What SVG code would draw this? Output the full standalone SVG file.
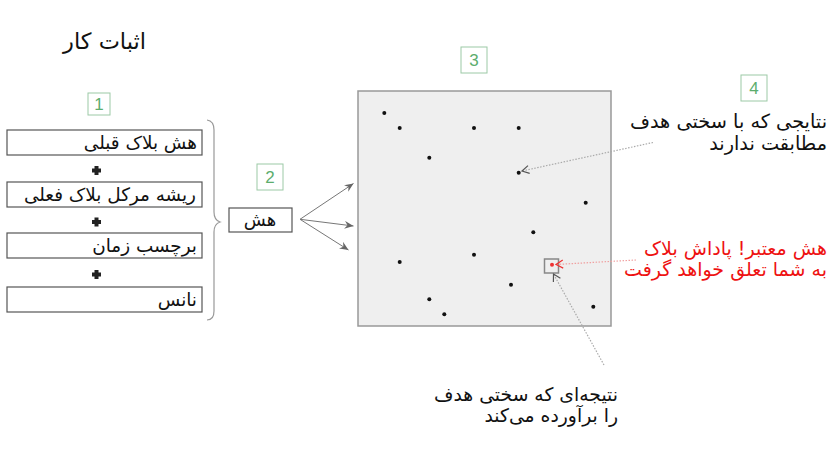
<svg xmlns="http://www.w3.org/2000/svg" width="835" height="470" viewBox="0 0 835 470">
<style>
.fa{font-family:"DejaVu Sans",sans-serif;fill:#111}
.red{fill:#ee1111}
.box{fill:#fff;stroke:#555;stroke-width:1.2}
.num{fill:#fff;stroke:#9cc9a6;stroke-width:1}
.numt{font-family:"Liberation Sans",Arial,sans-serif;font-size:17px;fill:#5cad6d;text-anchor:middle}
.plus{fill:#222}
.dot{fill:#111}
</style>
<defs>
<marker id="ah" markerWidth="10" markerHeight="8" refX="9" refY="4" orient="auto" markerUnits="userSpaceOnUse">
<path d="M0,0 L9,4 L0,8 L3,4 Z" fill="#666"/>
</marker>
<marker id="vg" markerWidth="10" markerHeight="10" refX="8" refY="5" orient="auto" markerUnits="userSpaceOnUse">
<path d="M1,1 L8,5 L1,9" fill="none" stroke="#555" stroke-width="1.2"/>
</marker>
<marker id="vr" markerWidth="10" markerHeight="10" refX="8" refY="5" orient="auto" markerUnits="userSpaceOnUse">
<path d="M1,1 L8,5 L1,9" fill="none" stroke="#e33" stroke-width="1.2"/>
</marker>
</defs>
<rect width="835" height="470" fill="#fff"/>
<text class="fa" x="146" y="49" font-size="22.5" text-anchor="end">اثبات کار</text>

<g id="label1"><rect class="num" x="88" y="93" width="22" height="22"/><text class="numt" x="99" y="110">1</text></g>
<g id="label2"><rect class="num" x="257" y="164" width="26" height="26"/><text class="numt" x="270" y="183">2</text></g>
<g id="label3"><rect class="num" x="461" y="47" width="26" height="26"/><text class="numt" x="474" y="66">3</text></g>
<g id="label4"><rect class="num" x="741" y="75" width="26" height="26"/><text class="numt" x="754" y="94">4</text></g>

<g id="prevhash"><rect class="box" x="7" y="130" width="195" height="25"/><text class="fa" x="197" y="149" font-size="18.4" text-anchor="end">هش بلاک قبلی</text></g>
<g id="plus1"><path class="plus" d="M94.5,166 h4 v2.5 h2.5 v4 h-2.5 v2.5 h-4 v-2.5 h-2.5 v-4 h2.5 z"/></g>
<g id="merkle"><rect class="box" x="7" y="182" width="195" height="25"/><text class="fa" x="196" y="201" font-size="18.4" text-anchor="end">ریشه مرکل بلاک فعلی</text></g>
<g id="plus2"><path class="plus" d="M94.5,217.5 h4 v2.5 h2.5 v4 h-2.5 v2.5 h-4 v-2.5 h-2.5 v-4 h2.5 z"/></g>
<g id="timestamp"><rect class="box" x="7" y="233" width="195" height="25"/><text class="fa" x="197" y="252" font-size="18.4" text-anchor="end">برچسب زمان</text></g>
<g id="plus3"><path class="plus" d="M94.5,270 h4 v2.5 h2.5 v4 h-2.5 v2.5 h-4 v-2.5 h-2.5 v-4 h2.5 z"/></g>
<g id="nonce"><rect class="box" x="7" y="287" width="195" height="25"/><text class="fa" x="197" y="306" font-size="18.4" text-anchor="end">نانس</text></g>

<g id="brace"><path d="M207,120 Q214,121 214,130 L214,212 Q214,220 220,222 Q214,224 214,232 L214,311 Q214,320 207,320" fill="none" stroke="#999" stroke-width="1.2"/></g>

<g id="hash"><rect class="box" x="229" y="208" width="63" height="24"/><text class="fa" x="260" y="226" font-size="18" text-anchor="middle">هش</text></g>

<g id="space">
<rect x="358" y="91" width="253" height="235" fill="#efefef" stroke="#999" stroke-width="1.5"/>
<g class="dot">
<circle cx="384.3" cy="113" r="2"/>
<circle cx="399.7" cy="128" r="2"/>
<circle cx="474" cy="128" r="2"/>
<circle cx="518.7" cy="128" r="2"/>
<circle cx="429.3" cy="157.7" r="2"/>
<circle cx="518.7" cy="172.7" r="2"/>
<circle cx="585.7" cy="202.7" r="2"/>
<circle cx="533.3" cy="232.3" r="2"/>
<circle cx="399.7" cy="262" r="2"/>
<circle cx="474" cy="254.7" r="2"/>
<circle cx="511" cy="284.7" r="2"/>
<circle cx="429.3" cy="299.3" r="2"/>
<circle cx="444.3" cy="314.3" r="2"/>
<circle cx="593.3" cy="306.7" r="2"/>
</g>
<rect x="544.5" y="259" width="14" height="14" fill="none" stroke="#888" stroke-width="1.5"/>
<circle cx="552" cy="264.7" r="2" fill="#e33"/>
</g>

<g id="connectors">
<line x1="300" y1="219.3" x2="353.5" y2="183.5" stroke="#777" stroke-width="1" marker-end="url(#ah)"/>
<line x1="300" y1="219.3" x2="353.5" y2="226" stroke="#777" stroke-width="1" marker-end="url(#ah)"/>
<line x1="300" y1="219.3" x2="348.5" y2="250" stroke="#777" stroke-width="1" marker-end="url(#ah)"/>
<line x1="653" y1="142.5" x2="522" y2="171" stroke="#aaa" stroke-width="1.2" stroke-dasharray="1.5,1.5" marker-end="url(#vg)"/>
<line x1="636" y1="260" x2="556" y2="264.5" stroke="#f0a0a0" stroke-width="1.2" stroke-dasharray="1.5,1.5" marker-end="url(#vr)"/>
<line x1="604" y1="365" x2="553.5" y2="274" stroke="#aaa" stroke-width="1.2" stroke-dasharray="1.5,1.5" marker-end="url(#vg)"/>
</g>

<g id="note4">
<text class="fa" x="827" y="128" font-size="19.3" text-anchor="end">نتایجی که با سختی هدف</text>
<text class="fa" x="827" y="150" font-size="19.3" text-anchor="end">مطابقت ندارند</text>
</g>
<g id="notevalid">
<text class="fa red" x="827" y="255" font-size="19" text-anchor="end">هش معتبر! پاداش بلاک</text>
<text class="fa red" x="827" y="276" font-size="19" text-anchor="end">به شما تعلق خواهد گرفت</text>
</g>
<g id="notemeet">
<text class="fa" x="618" y="401" font-size="18.8" text-anchor="end">نتیجه‌ای که سختی هدف</text>
<text class="fa" x="618" y="422" font-size="18.8" text-anchor="end">را برآورده می‌کند</text>
</g>
</svg>
